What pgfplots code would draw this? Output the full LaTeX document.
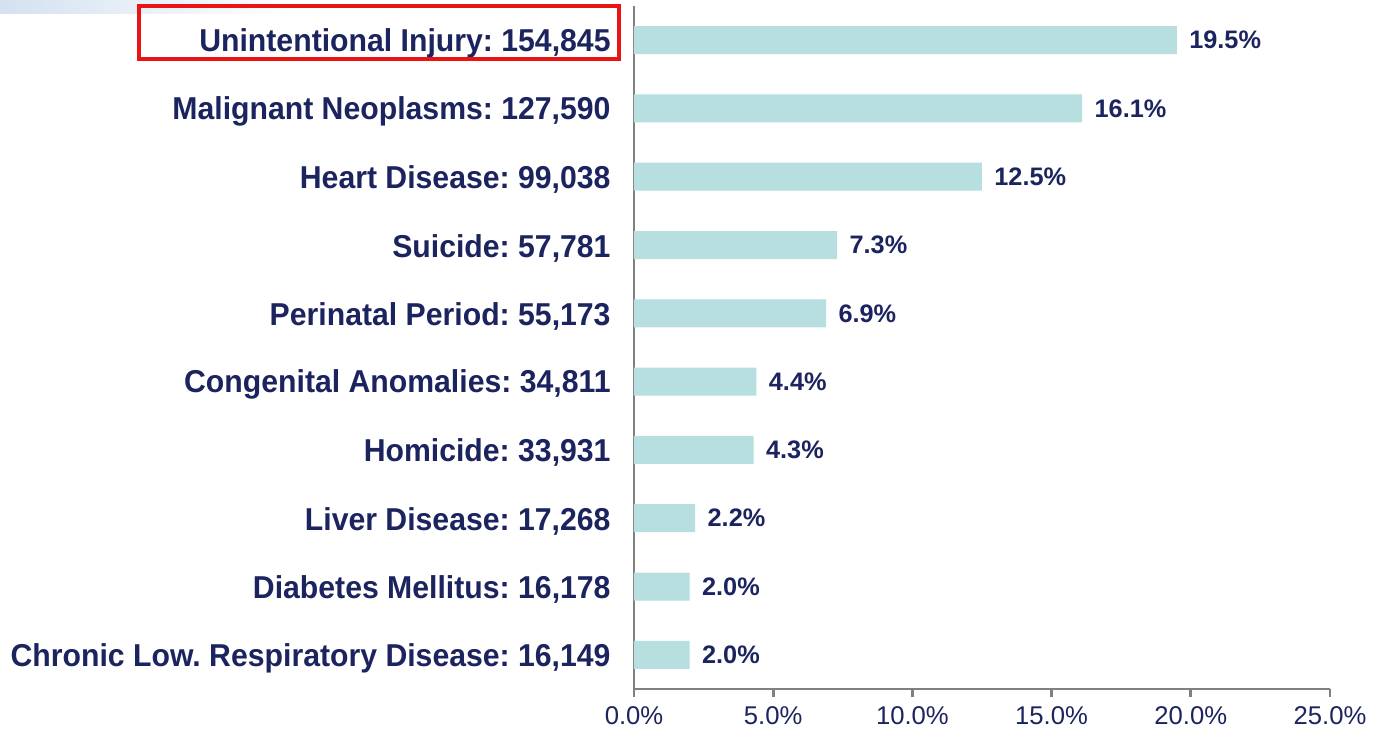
\documentclass[border=0pt]{standalone}
\usepackage{pgfplots}
\pgfplotsset{compat=1.18}
\usepackage{graphicx}
\usepackage{fontspec}
\setmainfont{Liberation Sans}
\frenchspacing
\definecolor{navy}{RGB}{28,36,96}
\definecolor{barc}{RGB}{184,223,224}
\definecolor{axisgray}{RGB}{128,128,128}
\definecolor{boxred}{RGB}{235,20,20}
\definecolor{fadeblue}{RGB}{212,225,240}
\newcommand{\cl}[1]{\scalebox{0.955}[1]{#1}}
\begin{document}
\begin{tikzpicture}[x=1cm,y=1cm]
\useasboundingbox (0,0) rectangle (13.85,7.31);
\fill[white] (0,0) rectangle (13.85,7.31);
\shade[left color=fadeblue, right color=white] (0,7.17) rectangle (2.9,7.31);
\begin{axis}[
  at={(6.34cm,0.42cm)}, anchor=south west,
  scale only axis, width=6.96cm, height=6.83cm,
  xmin=0, xmax=25, ymin=-0.5, ymax=9.5,
  y dir=reverse,
  xbar, bar width=0.28cm,
  axis x line*=bottom, axis y line*=left,
  axis line style={axisgray, line width=0.8pt},
  tick style={axisgray, line width=0.8pt},
  tick align=outside,
  major tick length=0.08cm, minor tick length=0.08cm,
  xtick={0,5,10,15,20,25},
  /pgf/number format/assume math mode=true,
  xticklabel={\pgfmathprintnumber[fixed,fixed zerofill,precision=1]{\tick}\%},
  xticklabel style={font=\fontsize{7.3}{8}\selectfont, text=navy, yshift=0.03cm},
  ytick={0,...,9},
  ytick style={draw=none},
  minor ytick={-0.5,0.5,...,8.5},
  yticklabels={
    {\cl{Unintentional Injury: 154,845}},
    {\cl{Malignant Neoplasms: 127,590}},
    {\cl{Heart Disease: 99,038}},
    {\cl{Suicide: 57,781}},
    {\cl{Perinatal Period: 55,173}},
    {\cl{Congenital Anomalies: 34,811}},
    {\cl{Homicide: 33,931}},
    {\cl{Liver Disease: 17,268}},
    {\cl{Diabetes Mellitus: 16,178}},
    {\cl{Chronic Low. Respiratory Disease: 16,149}}},
  yticklabel style={font=\bfseries\fontsize{9}{10}\selectfont, text=navy, xshift=-0.03cm, yshift=-0.03cm},
  nodes near coords={\pgfmathprintnumber[fixed,fixed zerofill,precision=1]{\pgfplotspointmeta}\%},
  nodes near coords style={font=\bfseries\fontsize{7.2}{8}\selectfont, text=navy, anchor=west, xshift=0.0cm},
  clip=false,
]
\addplot[fill=barc, draw=none] coordinates {
  (19.5,0) (16.1,1) (12.5,2) (7.3,3) (6.9,4) (4.4,5) (4.3,6) (2.2,7) (2.0,8) (2.0,9)
};
\end{axis}
\draw[boxred, line width=1.1pt] (1.39,7.25) rectangle (6.19,6.72);
\end{tikzpicture}
\end{document}
